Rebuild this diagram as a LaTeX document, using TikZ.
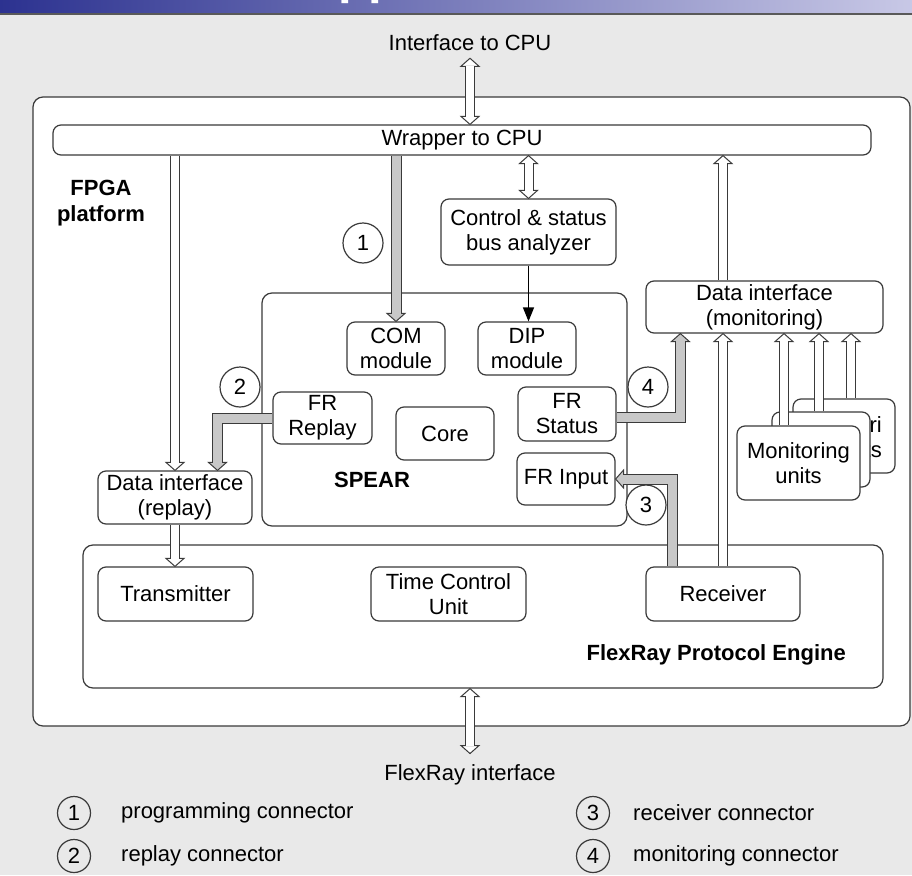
\documentclass[tikz,border=0pt]{standalone}
\usepackage{fontspec}
\setmainfont{Liberation Sans}
\usetikzlibrary{calc,arrows.meta,decorations.markings}

\definecolor{edge}{HTML}{3A3A3A}
\definecolor{bgc}{HTML}{E9E9E9}
\definecolor{bar1}{HTML}{2C3290}
\definecolor{bar2}{HTML}{C8C8E6}
\definecolor{shaft}{HTML}{C8C8C8}

% open/filled block-arrow head, drawn in the frame of a marking
\newcommand\blockhead[2]{%
  \filldraw[fill=#1, draw=edge, line width=1pt, line join=miter,
            shorten >=0pt, shorten <=0pt]
    (0,0) -- ({#2*8},9) -- ({#2*8},-9) -- cycle;}

\tikzset{
  box/.style={draw=edge, line width=1.2pt, fill=white, rounded corners=8pt,
              align=center, inner sep=0pt},
  bigbox/.style={draw=edge, line width=1.2pt, fill=white, rounded corners=10pt,
                 inner sep=0pt},
  lbl/.style={inner sep=2pt, align=center},
  bold/.style={inner sep=2pt, align=center, font=\fontsize{22}{26}\selectfont\bfseries},
  num/.style={circle, draw=edge, line width=1.2pt, fill=white, minimum size=40pt, inner sep=0pt},
  lnum/.style={circle, draw=edge, line width=1.2pt, minimum size=33pt, inner sep=0pt},
  % block arrows: outlined shaft (outer stroke + inner stroke) and a head
  blockarrow/.style n args={4}{draw=edge, line width=#2, line join=miter,
     shorten <=0.6pt, shorten >=7.5pt,
     postaction={decorate, decoration={markings,
        mark=at position 1 with {\blockhead{#1}{-1}}}},
     postaction={draw=#1, line width=#3, shorten <=0.6pt, shorten >=7.5pt}},
  hollow/.style={blockarrow={white}{10pt}{8pt}{}},
  grayarrow/.style={blockarrow={shaft}{11pt}{9pt}{}},
  hollowboth/.style={draw=edge, line width=10pt, line join=miter,
     shorten <=7.5pt, shorten >=7.5pt,
     postaction={decorate, decoration={markings,
        mark=at position 0 with {\blockhead{white}{1}},
        mark=at position 1 with {\blockhead{white}{-1}}}},
     postaction={draw=white, line width=8pt, shorten <=7.5pt, shorten >=7.5pt}},
  thinarrow/.style={draw=black, line width=1.3pt, -{Triangle[width=11pt,length=14pt]}},
}

\begin{document}
\begin{tikzpicture}[x=1pt,y=-1pt,font=\fontsize{22}{25}\selectfont]
\useasboundingbox (0,0) rectangle (912,875);

% slide background and title bar
\fill[bgc] (0,0) rectangle (912,875);
\shade[left color=bar1, right color=bar2] (0,0) rectangle (912,13.5);
\draw[black!65, line width=1.5pt] (0,14) -- (912,14);
\begin{scope}
  \clip (0,0) rectangle (912,13.5);
  \node[anchor=base west, inner sep=0pt, text=white,
        font=\fontsize{49}{50}\selectfont\bfseries] (ttl) at (338.5,-6) {pp};
\end{scope}

% outer platform
\node[bigbox, minimum width=877pt, minimum height=629pt] (fpga) at (471.5,411.5) {};
\node[bold] (fpgalbl) at (101,203) {FPGA\\platform};

\node[box, minimum width=818pt, minimum height=30pt] (wrap) at (462,140) {Wrapper to CPU};
\node[box, minimum width=175pt, minimum height=66pt] (csba) at (528.5,232) {Control \& status\\bus analyzer};

% SPEAR processor
\node[bigbox, minimum width=365pt, minimum height=233pt] (spear) at (444.5,409.5) {};
\node[bold] (spearlbl) at (372,480) {SPEAR};
\node[box, minimum width=98pt, minimum height=53pt] (com) at (396,348.5) {COM\\module};
\node[box, minimum width=98pt, minimum height=53pt] (dip) at (527,348.5) {DIP\\module};
\node[box, minimum width=99pt, minimum height=52pt] (frrep) at (322.5,418) {FR\\Replay};
\node[box, minimum width=98pt, minimum height=53pt] (core) at (445,433.5) {Core};
\node[box, minimum width=98pt, minimum height=54pt] (frst) at (567,414) {FR\\Status};
\node[box, minimum width=98pt, minimum height=52pt] (frin) at (566,479) {FR Input};

\node[box, minimum width=154pt, minimum height=53pt] (drep) at (175,497.5) {Data interface\\(replay)};
\node[box, minimum width=237pt, minimum height=52pt] (dmon) at (764.5,307) {Data interface\\(monitoring)};

% stack of monitoring units
\node[box, minimum width=102pt, minimum height=74pt] (mu3) at (844,436) {};
\node[lbl, anchor=east, align=right, inner sep=0pt] (mu3lbl) at (882,437) {Monitori\\units};
\node[box, minimum width=98pt, minimum height=75pt] (mu2) at (821,449.5) {};
\node[box, minimum width=123pt, minimum height=74pt] (mu1) at (798.5,463) {Monitoring\\units};

% protocol engine
\node[bigbox, minimum width=800pt, minimum height=143pt] (fpe) at (483,616.5) {};
\node[bold, anchor=east] (fpelbl) at (848,655) {FlexRay Protocol Engine};
\node[box, minimum width=155pt, minimum height=54pt] (tx) at (175.5,594) {Transmitter};
\node[box, minimum width=155pt, minimum height=54pt] (tcu) at (448.5,594) {Time Control\\Unit};
\node[box, minimum width=154pt, minimum height=54pt] (rx) at (723,594) {Receiver};

% outside interfaces
\node[lbl] (ifcpu) at (470,43) {Interface to CPU};
\node[lbl] (flexif) at (470,775) {FlexRay interface};

% connectors
\draw[hollowboth] ($(ifcpu.south)+(0,5)$) -- (ifcpu.south |- wrap.north);
\draw[hollowboth] (flexif.north |- fpe.south) -- ($(flexif.north)+(0,-9)$);
\draw[hollow] (wrap.south -| drep.north) -- (drep.north);
\draw[hollow] (drep.south) -- (drep.south |- tx.north);
\draw[grayarrow] (wrap.south -| com.north) -- (com.north);
\draw[hollowboth] (wrap.south -| csba.north) -- (csba.north);
\draw[thinarrow] (csba.south) -- (csba.south |- dip.north);
\draw[grayarrow] (frrep.west) -| ($(drep.north)+(42.5,0)$);
\draw[grayarrow] ($(frst.east)+(0,3.5)$) -| ($(dmon.south west)+(35,0)$);
\draw[grayarrow] ($(rx.north west)+(27.5,0)$) |- (frin.east);
\draw[hollow] (rx.north) -- (rx.north |- dmon.south);
\draw[hollow] (rx.north |- dmon.north) -- (rx.north |- wrap.south);
\coordinate (m1) at ($(mu1.north)+(-14.5,0)$);
\coordinate (m2) at ($(mu2.north)+(-2,0)$);
\coordinate (m3) at ($(mu3.north)+(7,0)$);
\draw[hollow] (m1) -- (m1 |- dmon.south);
\draw[hollow] (m2) -- (m2 |- dmon.south);
\draw[hollow] (m3) -- (m3 |- dmon.south);

% connector numbers
\node[num] (n1) at (363,243) {1};
\node[num] (n2) at (240,387) {2};
\node[num] (n3) at (646,505) {3};
\node[num] (n4) at (648,387) {4};

% legend
\node[lnum] (k1) at (74,813) {1};
\node[lnum] (k2) at (74,856) {2};
\node[lnum] (k3) at (593,813) {3};
\node[lnum] (k4) at (593,856) {4};
\node[lbl, anchor=west, inner sep=0pt] (t1) at (121,813) {programming connector};
\node[lbl, anchor=west, inner sep=0pt] (t2) at (121,856) {replay connector};
\node[lbl, anchor=west, inner sep=0pt] (t3) at (633,813) {receiver connector};
\node[lbl, anchor=west, inner sep=0pt] (t4) at (633,856) {monitoring connector};
\end{tikzpicture}
\end{document}
